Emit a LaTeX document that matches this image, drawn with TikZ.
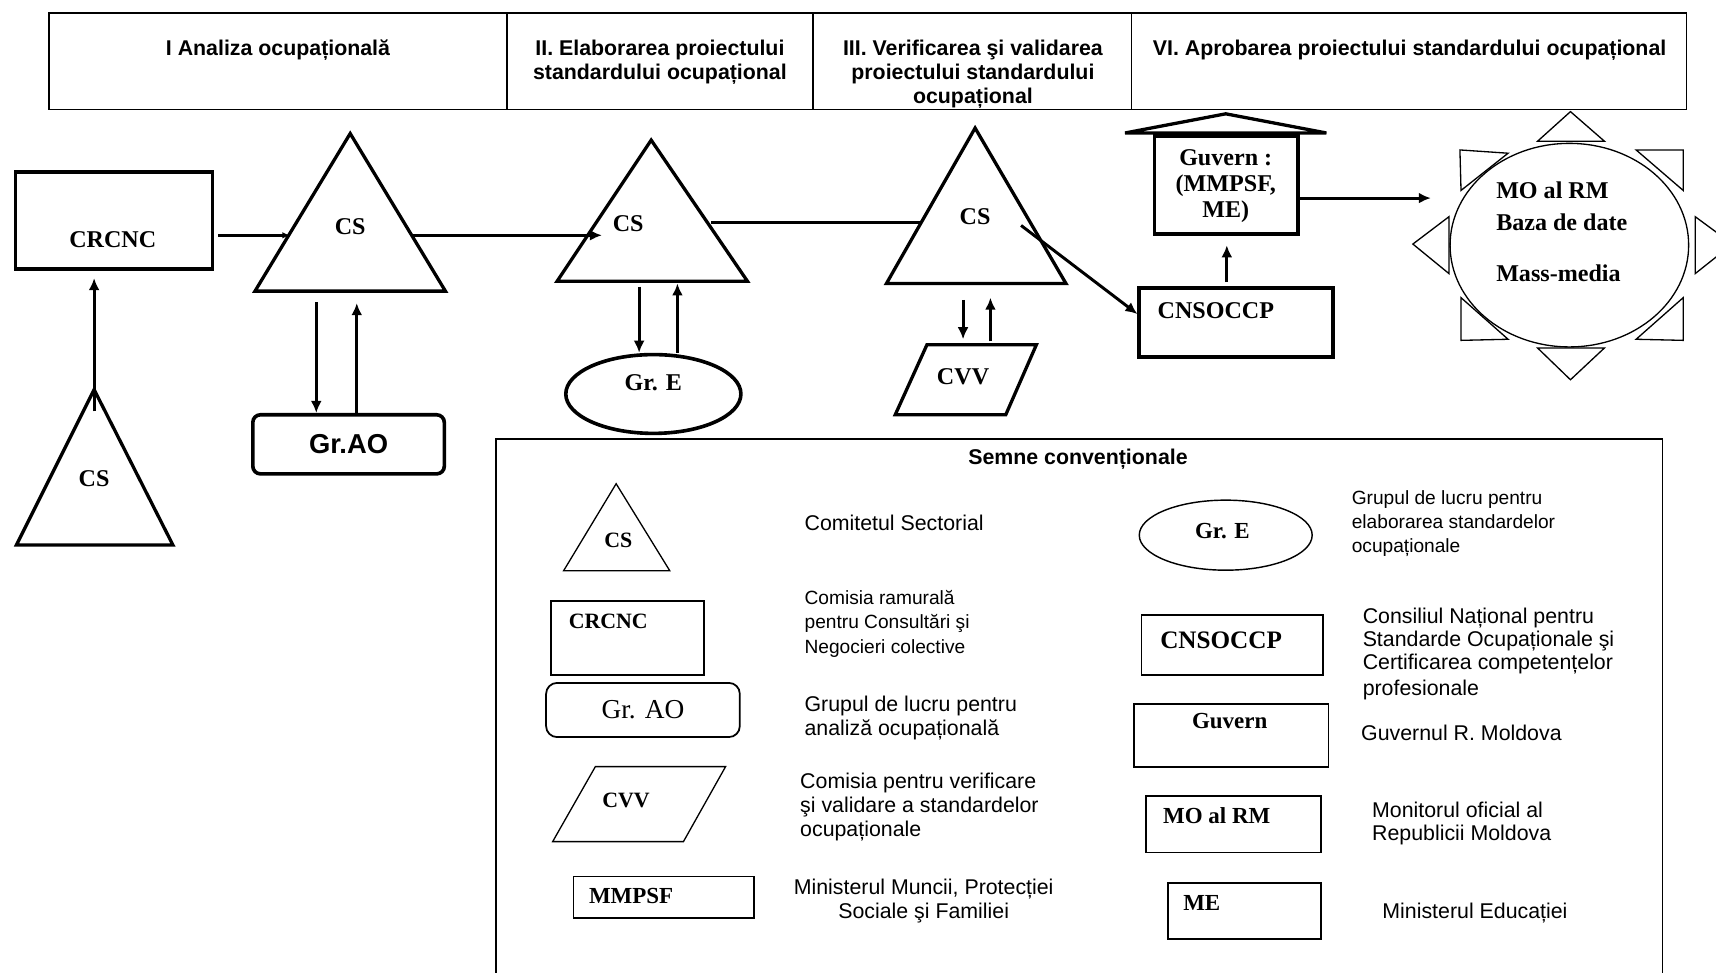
\documentclass[tikz,border=0pt]{standalone}
\usepackage{fontspec}
\setmainfont{Liberation Serif}
\setsansfont{Liberation Sans}
\usetikzlibrary{arrows.meta}
\usetikzlibrary{positioning}
\usetikzlibrary{shapes.geometric}

\tikzset{
  cell/.style={draw,line width=1.5pt,inner sep=0pt},
  htxt/.style={anchor=north,align=center,inner sep=0pt,font=\sffamily\bfseries\fontsize{19.5}{22}\selectfont},
  box/.style={draw,line width=3.3pt,inner sep=0pt},
  tri/.style={line width=3pt,line join=miter},
  lab/.style={inner sep=0pt,font=\bfseries\fontsize{22}{24}\selectfont},
  arr/.style={line width=2.7pt,-{Latex[length=11pt,width=10pt]}},
  conn/.style={line width=2.7pt},
  thin/.style={line width=1.2pt},
  ebox/.style={draw,ellipse,line width=3.3pt,inner sep=0pt},
  leg/.style={line width=1.5pt},
  lbox/.style={draw,line width=1.6pt,inner sep=0pt},
  llab/.style={inner sep=0pt,font=\bfseries\fontsize{21}{24}\selectfont},
  ldesc/.style={anchor=north west,align=left,inner sep=0pt,font=\sffamily\fontsize{19.5}{22}\selectfont},
}

\begin{document}
\begin{tikzpicture}[x=1pt,y=-1pt]
\useasboundingbox [fill=white] (0,0) rectangle (1568,889);

% stages
\node [cell,minimum width=418,minimum height=88] (ph1) at (254,56) {};
\node [cell,minimum width=280,minimum height=88] (ph2) at (603,56) {};
\node [cell,minimum width=291,minimum height=88] (ph3) at (888.5,56) {};
\node [cell,minimum width=507,minimum height=88] (ph4) at (1287.5,56) {};
\node [htxt] (ph1t) at (254,36) {I Analiza ocupațională};
\node [htxt] (ph2t) at (603,36) {II. Elaborarea proiectului\\standardului ocupațional};
\node [htxt] (ph3t) at (889,36) {III. Verificarea şi validarea\\proiectului standardului\\ocupațional};
\node [htxt] (ph4t) at (1288,36) {VI. Aprobarea proiectului standardului ocupațional};

% I
\node [box,minimum width=180,minimum height=89] (crcnc) at (104,201.5) {};
\node [lab] (crcnct) at (103,219) {CRCNC};
\draw [tri] (86,356) -- (15,498) -- (158,498) -- cycle;
\node [lab] (cs1) at (86,437) {CS};
\coordinate (cs1in) at (86,376);
\draw [arr,shorten >=6.5pt] (cs1in) -- (cs1in |- crcnc.south);

\draw [tri] (320,122) -- (233,266) -- (407,266) -- cycle;
\node [lab] (cs2) at (320,207) {CS};
\coordinate (cs2w) at (265,215);
\coordinate (cs2e) at (376,215);
\draw [arr,shorten <=4pt,-{Latex[length=7pt,width=6pt]}] ([yshift=-13.5pt]crcnc.east) -- (cs2w);

\node [box,rounded corners=7pt,minimum width=175,minimum height=54,font=\sffamily\bfseries\fontsize{25}{28}\selectfont] (grao) at (318.5,406) {Gr.AO};
\coordinate (cs2d) at (289,276);
\coordinate (cs2u) at (326,277);
\draw [arr] (cs2d) -- (cs2d |- grao.north);
\draw [arr] (cs2u |- grao.north) -- (cs2u);

% II
\draw [tri] (595,128) -- (509,257) -- (683,257) -- cycle;
\node [lab] (cs3) at (574,204) {CS};
\coordinate (cs3w) at (550,215);
\draw [arr] (cs2e) -- (cs3w);

\node [ebox,minimum width=160,minimum height=72] (gre) at (597,360) {};
\node [lab] (gret) at (597,350) {Gr. E};
\coordinate (cs3d) at (584,262);
\coordinate (cs3u) at (619,259);
\draw [arr] (cs3d) -- (cs3d |- gre.north);
\draw [arr] (cs3u |- gre.north) -- (cs3u);

\coordinate (cs3e) at (650,203);
\coordinate (cs4w) at (842,203);
\draw [conn] (cs3e) -- (cs4w);

% III
\draw [tri] (891,117) -- (810,259) -- (974,259) -- cycle;
\node [lab] (cs4) at (891,198) {CS};
\draw [tri] (847,315) -- (947,315) -- (919,379) -- (818,379) -- cycle;
\node [lab] (cvv) at (880,344) {CVV};
\coordinate (cvvtop) at (880,315);
\coordinate (cs4d) at (880,274);
\coordinate (cs4u) at (905,272);
\draw [arr,shorten >=5pt] (cs4d) -- (cs4d |- cvvtop);
\draw [arr,shorten <=3pt] (cs4u |- cvvtop) -- (cs4u);

% VI
\node [box,minimum width=177,minimum height=63] (cns) at (1129.5,294.5) {};
\node [lab] (cnst) at (1111,284) {CNSOCCP};
\coordinate (cs4in) at (933,206);
\draw [arr] (cs4in) -- ([yshift=7.5pt]cns.west);

\node [box,minimum width=131,minimum height=90] (guv) at (1120.5,169) {};
\draw [tri] (1028,121.5) -- (1120,104) -- (1212,121.5) -- cycle;
\node [lab,align=center,anchor=north,font=\bfseries\fontsize{22}{24}\selectfont] (guvt) at (1120,136) {Guvern :\\(MMPSF,\\ME)};
\draw [arr,shorten <=3.5pt,shorten >=8.5pt] ([xshift=-8.5pt]cns.north) -- ([xshift=0.5pt]guv.south);

\node [draw,ellipse,thin,minimum width=218,minimum height=186] (mo) at (1434,224) {};
\node [lab,anchor=west] (mo1) at (1367,174) {MO al RM};
\node [lab,anchor=west] (mo2) at (1367,203) {Baza de date};
\node [lab,anchor=west] (mo3) at (1367,250) {Mass-media};
\draw [arr,shorten >=17pt] ([yshift=-12pt]guv.east) -- ([yshift=-12pt]guv.east -| mo.west);

\draw [thin] (1405,129) -- (1435,102) -- (1466,129) -- cycle;
\draw [thin] (1405,318) -- (1466,318) -- (1435,347) -- cycle;
\draw [thin] (1324,198) -- (1291,223) -- (1324,250) -- cycle;
\draw [thin] (1549,198) -- (1583,223) -- (1549,250) -- cycle;
\draw [thin] (1334,137) -- (1378,140) -- (1335,174) -- cycle;
\draw [thin] (1495,137) -- (1538,137) -- (1538,174) -- cycle;
\draw [thin] (1335,272) -- (1335,311) -- (1378,310) -- cycle;
\draw [thin] (1538,272) -- (1538,311) -- (1495,310) -- cycle;

% legend
\draw [leg] (453,900) -- (453,401) -- (1519,401) -- (1519,900);
\node [inner sep=0pt,font=\sffamily\bfseries\fontsize{19.5}{22}\selectfont] (semne) at (985,420) {Semne convenționale};

\draw [thin] (563,442) -- (515,521.5) -- (612,521.5) -- cycle;
\node [llab,font=\bfseries\fontsize{20}{22}\selectfont] (lcs) at (565,493.5) {CS};
\node [ldesc] (lcsd) at (735,470.5) {Comitetul Sectorial};

\node [lbox,minimum width=139.4,minimum height=68] (lcrcnc) at (573.3,583) {};
\node [llab,anchor=west,font=\bfseries\fontsize{20}{22}\selectfont] (lcrcnct) at (519.5,567.5) {CRCNC};
\node [ldesc,font=\sffamily\fontsize{17.5}{22.3}\selectfont] (lcrcncd) at (735,539) {Comisia ramurală\\pentru Consultări şi\\Negocieri colective};

\node [lbox,rounded corners=10pt,minimum width=177,minimum height=49.5,font=\fontsize{25}{28}\selectfont] (lgrao) at (587.5,648.75) {Gr. AO};
\node [ldesc] (lgraod) at (735,636) {Grupul de lucru pentru\\analiză ocupațională};

\draw [thin] (544,700.5) -- (663,700.5) -- (624.5,769) -- (505,769) -- cycle;
\node [llab,font=\bfseries\fontsize{20}{22}\selectfont] (lcvv) at (572,731) {CVV};
\node [ldesc] (lcvvd) at (731,706) {Comisia pentru verificare\\şi validare a standardelor\\ocupaționale};

\node [lbox,minimum width=165,minimum height=38] (lmm) at (606.5,820) {};
\node [llab,anchor=west] (lmmt) at (538,819) {MMPSF};
\node [ldesc,anchor=north,align=center,font=\sffamily\fontsize{19.5}{21.5}\selectfont] (lmmd) at (844,803) {Ministerul Muncii, Protecției\\Sociale şi Familiei};

\node [draw,ellipse,line width=1.3pt,minimum width=158,minimum height=64] (lgre) at (1120,489) {};
\node [llab] (lgret) at (1117,485) {Gr. E};
\node [ldesc,font=\sffamily\fontsize{17.5}{22}\selectfont] (lgred) at (1235,448) {Grupul de lucru pentru\\elaborarea standardelor\\ocupaționale};

\node [lbox,minimum width=166,minimum height=55] (lcns) at (1126,589.5) {};
\node [llab,anchor=west,font=\bfseries\fontsize{23}{25}\selectfont] (lcnst) at (1060,585.5) {CNSOCCP};
\node [ldesc,font=\sffamily\fontsize{19.5}{21}\selectfont] (lcnsd) at (1245,555) {Consiliul Național pentru\\Standarde Ocupaționale şi\\Certificarea competențelor\\[3pt]profesionale};

\node [lbox,minimum width=178,minimum height=58] (lguv) at (1125,672) {};
\node [llab] (lguvt) at (1123.6,659) {Guvern};
\node [ldesc] (lguvd) at (1243.6,662) {Guvernul R. Moldova};

\node [lbox,minimum width=160,minimum height=52] (lmo) at (1127,753) {};
\node [llab,anchor=west] (lmot) at (1062.6,745.6) {MO al RM};
\node [ldesc,font=\sffamily\fontsize{19.5}{21}\selectfont] (lmod) at (1253.6,733) {Monitorul oficial al\\Republicii Moldova};

\node [lbox,minimum width=140,minimum height=51.5] (lme) at (1137,832.25) {};
\node [llab,anchor=west] (lmet) at (1081,824.8) {ME};
\node [ldesc] (lmed) at (1263,824.5) {Ministerul Educației};
\end{tikzpicture}
\end{document}
